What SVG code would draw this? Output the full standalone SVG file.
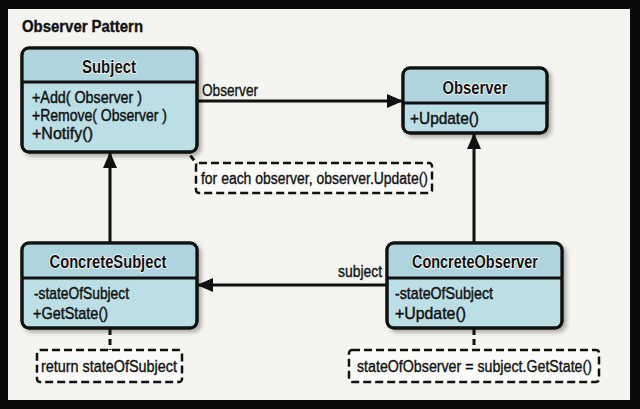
<svg xmlns="http://www.w3.org/2000/svg" width="640" height="409" viewBox="0 0 640 409">
<style>
.box{fill:#bcdfe6;stroke:#111;stroke-width:3}
.hdr{fill:#aed5de}
.div{stroke:#111;stroke-width:3}
.t{font-family:"Liberation Sans Narrow","Liberation Sans",sans-serif;fill:#111}
.title{font-size:18px;font-weight:bold;text-anchor:middle;stroke:#fff;stroke-width:1.6;paint-order:stroke;stroke-linejoin:round}
.mem{font-size:17px;stroke:#111;stroke-width:0.45}
.lbl{font-family:"Liberation Sans Narrow","Liberation Sans",sans-serif;fill:#111;font-size:16px;stroke:#111;stroke-width:0.35}
.note{fill:#fafaf8;stroke:#111;stroke-width:2.5;stroke-dasharray:8 4}
.line{stroke:#111;stroke-width:3;fill:none}
.dash{stroke:#111;stroke-width:3;fill:none;stroke-dasharray:6 4}
</style>
<defs>
<marker id="arr" markerUnits="userSpaceOnUse" markerWidth="16" markerHeight="16" viewBox="0 0 16 16" refX="15" refY="8" orient="auto">
<path d="M0,1 L16,8 L0,15 Z" fill="#111"/>
</marker>
<filter id="sh" x="-10%" y="-10%" width="130%" height="140%">
<feDropShadow dx="3" dy="3" stdDeviation="2" flood-color="#000" flood-opacity="0.3"/>
</filter>
</defs>
<rect x="0" y="0" width="640" height="409" fill="#0a0a0a"/>
<rect x="8" y="9" width="622" height="391" fill="#f4f4f1"/>
<text x="22" y="32" class="lbl" font-weight="bold" font-size="16" textLength="121" lengthAdjust="spacingAndGlyphs">Observer Pattern</text>

<g id="connectors">
<line class="line" x1="198" y1="101" x2="402" y2="101" marker-end="url(#arr)"/>
<line class="line" x1="110" y1="243" x2="110" y2="153" marker-end="url(#arr)"/>
<line class="line" x1="474" y1="243" x2="474" y2="134" marker-end="url(#arr)"/>
<line class="line" x1="387" y1="285" x2="198" y2="285" marker-end="url(#arr)"/>
<line class="dash" x1="178" y1="140" x2="197" y2="164"/>
<line class="dash" x1="110" y1="329" x2="110" y2="350"/>
<line class="dash" x1="474" y1="329" x2="474" y2="350"/>
<text x="202" y="96" class="lbl" font-size="17" textLength="56" lengthAdjust="spacingAndGlyphs">Observer</text>
<text x="338" y="277" class="lbl" font-size="17" textLength="44" lengthAdjust="spacingAndGlyphs">subject</text>
</g>

<g id="subject">
<rect class="box" x="22" y="48" width="175" height="104" rx="7" filter="url(#sh)"/>
<path class="hdr" d="M29,49.5 H190 Q195.5,49.5 195.5,55 V81 H23.5 V55 Q23.5,49.5 29,49.5 Z"/>
<line class="div" x1="22" y1="82" x2="197" y2="82"/>
<rect x="22" y="48" width="175" height="104" rx="7" fill="none" stroke="#111" stroke-width="3"/>
<text class="t title" x="109" y="73" textLength="54" lengthAdjust="spacingAndGlyphs">Subject</text>
<text class="t mem" x="32" y="103" textLength="110" lengthAdjust="spacingAndGlyphs">+Add( Observer )</text>
<text class="t mem" x="32" y="121" textLength="135" lengthAdjust="spacingAndGlyphs">+Remove( Observer )</text>
<text class="t mem" x="32" y="139" textLength="61" lengthAdjust="spacingAndGlyphs">+Notify()</text>
</g>

<g id="observer">
<rect class="box" x="403" y="68" width="144" height="65" rx="7" filter="url(#sh)"/>
<path class="hdr" d="M410,69.5 H540 Q545.5,69.5 545.5,75 V102 H404.5 V75 Q404.5,69.5 410,69.5 Z"/>
<line class="div" x1="403" y1="103" x2="547" y2="103"/>
<rect x="403" y="68" width="144" height="65" rx="7" fill="none" stroke="#111" stroke-width="3"/>
<text class="t title" x="475" y="94" textLength="65" lengthAdjust="spacingAndGlyphs">Observer</text>
<text class="t mem" x="410" y="124" textLength="69" lengthAdjust="spacingAndGlyphs">+Update()</text>
</g>

<g id="concrete-subject">
<rect class="box" x="22" y="243" width="175" height="85" rx="7" filter="url(#sh)"/>
<path class="hdr" d="M29,244.5 H190 Q195.5,244.5 195.5,250 V277 H23.5 V250 Q23.5,244.5 29,244.5 Z"/>
<line class="div" x1="22" y1="278" x2="197" y2="278"/>
<rect x="22" y="243" width="175" height="85" rx="7" fill="none" stroke="#111" stroke-width="3"/>
<text class="t title" x="108" y="268" textLength="117" lengthAdjust="spacingAndGlyphs">ConcreteSubject</text>
<text class="t mem" x="34" y="299" textLength="95" lengthAdjust="spacingAndGlyphs">-stateOfSubject</text>
<text class="t mem" x="33" y="319" textLength="75" lengthAdjust="spacingAndGlyphs">+GetState()</text>
</g>

<g id="concrete-observer">
<rect class="box" x="387" y="243" width="175" height="85" rx="7" filter="url(#sh)"/>
<path class="hdr" d="M394,244.5 H555 Q560.5,244.5 560.5,250 V277 H388.5 V250 Q388.5,244.5 394,244.5 Z"/>
<line class="div" x1="387" y1="278" x2="562" y2="278"/>
<rect x="387" y="243" width="175" height="85" rx="7" fill="none" stroke="#111" stroke-width="3"/>
<text class="t title" x="475" y="268" textLength="126" lengthAdjust="spacingAndGlyphs">ConcreteObserver</text>
<text class="t mem" x="395" y="299" textLength="98" lengthAdjust="spacingAndGlyphs">-stateOfSubject</text>
<text class="t mem" x="395" y="319" textLength="71" lengthAdjust="spacingAndGlyphs">+Update()</text>
</g>

<g id="note-notify">
<rect class="note" x="196" y="163" width="236" height="30" rx="3"/>
<text class="lbl" x="201" y="184" textLength="227" lengthAdjust="spacingAndGlyphs">for each observer, observer.Update()</text>
</g>

<g id="note-getstate">
<rect class="note" x="37" y="350" width="145" height="32" rx="3"/>
<text class="lbl" x="41" y="372" textLength="136" lengthAdjust="spacingAndGlyphs">return stateOfSubject</text>
</g>

<g id="note-update">
<rect class="note" x="349" y="350" width="250" height="32" rx="3"/>
<text class="lbl" x="357" y="372" textLength="235" lengthAdjust="spacingAndGlyphs">stateOfObserver = subject.GetState()</text>
</g>
</svg>
